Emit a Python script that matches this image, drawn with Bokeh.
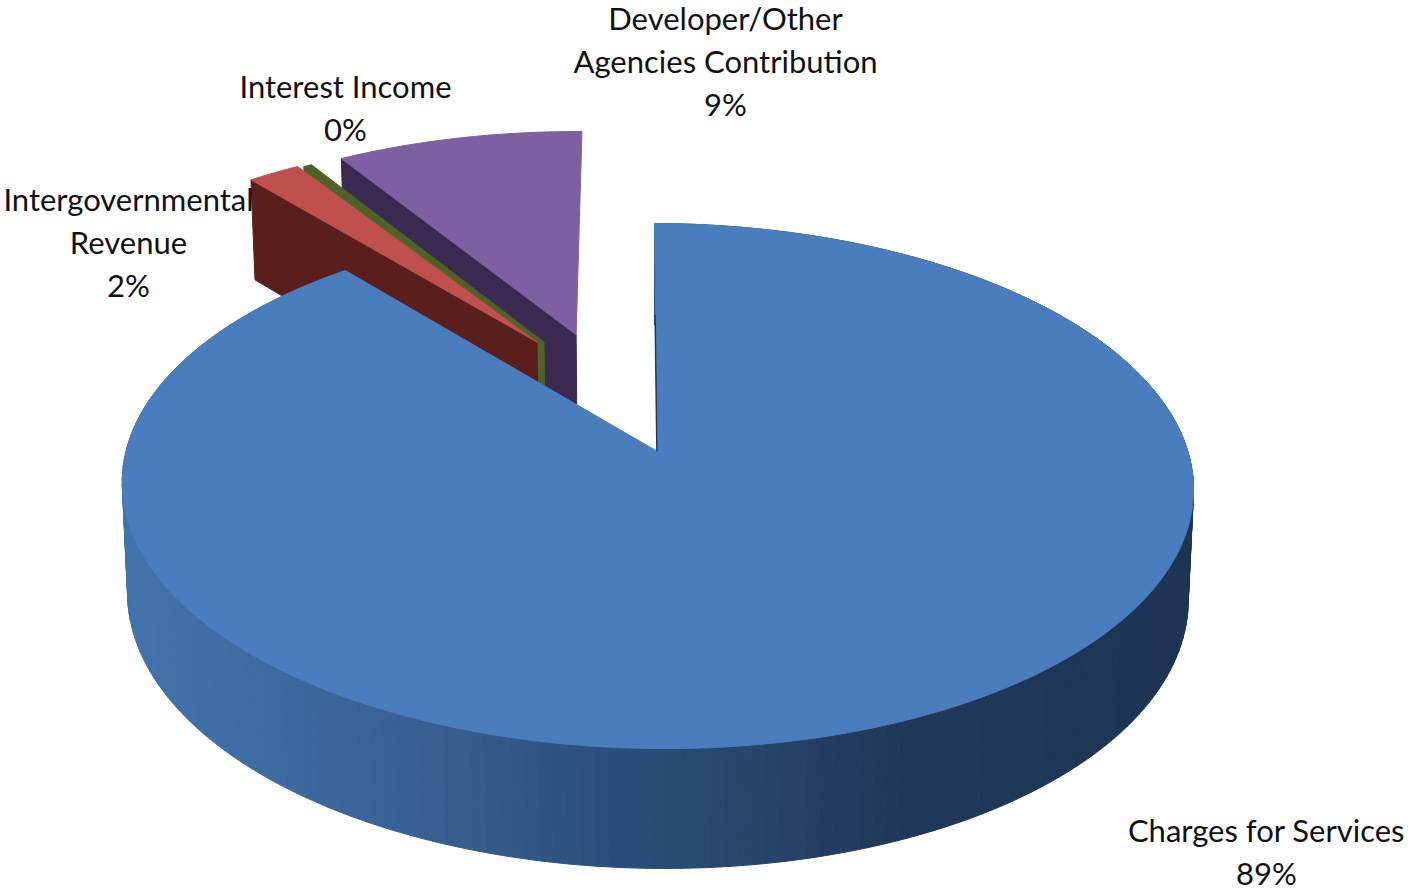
import numpy as np
from bokeh.core.properties import value
from bokeh.embed import file_html
from bokeh.models import Range1d
from bokeh.plotting import figure
from bokeh.resources import INLINE

# Revenue shares, clockwise from twelve o'clock
categories = ["Charges for Services", "Intergovernmental\nRevenue", "Interest Income",
              "Developer/Other\nAgencies Contribution"]
shares = [88.9, 1.9, 0.3, 8.9]

# Slice appearance and explosion (fractions of the radius in the pie's own plane)
top_colors = ["#4a7dbd", "#c0504d", "#4f6228", "#7d60a2"]
side_colors = ["#1f3a5c", "#5a1e1b", "#4f6228", "#3a2a52"]
explode = [(0.0, 0.0), (-0.2375, -0.447), (-0.2236, -0.447), (-0.16, -0.48)]

# Where the label blocks sit: centre x and first baseline, in page pixels
label_pos = [(1266, 829), (128, 198), (345, 85), (725, 17)]
LINE_STEP = 43

# Projection of the pie's disc on to the page
CX, CY = 657.0, 451.0
RX, RY = 531.0, 258.0
PERSPECTIVE = 0.1314
SKEW_X = 3.0
TILT = 0.004

# Shading of the blue rim, running from left to right across the page
rim_x = [122, 300, 450, 600, 750, 900, 1195]
rim_r = [66, 60, 55, 45, 40, 32, 29]
rim_g = [116, 106, 95, 79, 69, 57, 53]
rim_b = [172, 158, 142, 123, 107, 90, 83]


def project(u, v):
    """Top-face page position of disc point (u, v); v is negative towards the back."""
    u, v = np.asarray(u, float), np.asarray(v, float)
    w = 1.0 - PERSPECTIVE * v
    x = CX + RX * u / w + SKEW_X * v
    y = CY + RY * v / w + TILT * (x - CX)
    return x, y


def drop(x, y):
    """Page position of the lower rim directly beneath a top-face point."""
    x, y = np.asarray(x, float), np.asarray(y, float)
    return CX + (x - CX) * 0.99, y + 110.0 + (y - 465.0) * 0.035


def wedge_edges(a0, a1, offset, n):
    a = np.radians(np.linspace(a0, a1, n))
    return np.sin(a) + offset[0], -np.cos(a) + offset[1]


xs, ys, fills = [], [], []


def add(px, py, color):
    xs.append(list(map(float, px)))
    ys.append(list(map(float, py)))
    fills.append(color)


# Sweep of each slice in degrees
bounds = np.concatenate([[0.0], np.cumsum(shares) / np.sum(shares) * 360.0])

tops = []
for i in range(len(shares)):
    off = explode[i]
    u, v = wedge_edges(bounds[i], bounds[i + 1], off, 240 if i == 0 else 40)
    ax, ay = project(off[0], off[1])
    rx, ry = project(u, v)
    tops.append((ax, ay, rx, ry))

# Exploded slices, back to front: purple, green, red, each with its cut face
for i in (3, 2, 1):
    ax, ay, rx, ry = tops[i]
    cx0, cy0 = rx[0], ry[0]
    bx0, by0 = drop(cx0, cy0)
    bax, bay = drop(ax, ay)
    add([ax, cx0, bx0, bax], [ay, cy0, by0, bay], side_colors[i])
    add(np.r_[ax, rx], np.r_[ay, ry], top_colors[i])

# Rim of the large slice as narrow shaded strips, farthest first
ax, ay, rx, ry = tops[0]
bx, by = drop(rx, ry)
order = np.argsort(ry[:-1] + ry[1:])
for k in order:
    mid = (rx[k] + rx[k + 1]) / 2
    col = "#%02x%02x%02x" % (int(np.interp(mid, rim_x, rim_r)),
                             int(np.interp(mid, rim_x, rim_g)),
                             int(np.interp(mid, rim_x, rim_b)))
    add([rx[k], rx[k + 1], bx[k + 1], bx[k]], [ry[k], ry[k + 1], by[k + 1], by[k]], col)

add(np.r_[ax, rx], np.r_[ay, ry], top_colors[0])

p = figure(width=1410, height=890, output_backend="svg", toolbar_location=None,
           x_range=Range1d(0, 1410), y_range=Range1d(890, 0),
           min_border=0, outline_line_color=None, background_fill_color="white")
p.axis.visible = False
p.grid.visible = False

p.patches(xs, ys, fill_color=fills, line_color=fills, line_width=1)

# Dark sliver of the large slice's cut face along twelve o'clock
upper_x = float(ax) + (float(rx[0]) - float(ax)) * 0.6 - 0.6
upper_y = float(ay) + (float(ry[0]) - float(ay)) * 0.6
p.line([float(ax) - 0.6, upper_x], [float(ay), upper_y], line_color="#1f3a5c", line_width=1.5)

# Labels: category lines followed by the rounded share
for name, share, (lx, ly) in zip(categories, shares, label_pos):
    lines = name.split("\n") + [f"{round(share)}%"]
    p.text([lx] * len(lines), [ly + LINE_STEP * j for j in range(len(lines))], text=lines,
           text_align="center", text_baseline="alphabetic", text_color="#111111",
           text_font=value("Lato"), text_font_size="31px")

open("out.html", "w").write(file_html(p, INLINE))
